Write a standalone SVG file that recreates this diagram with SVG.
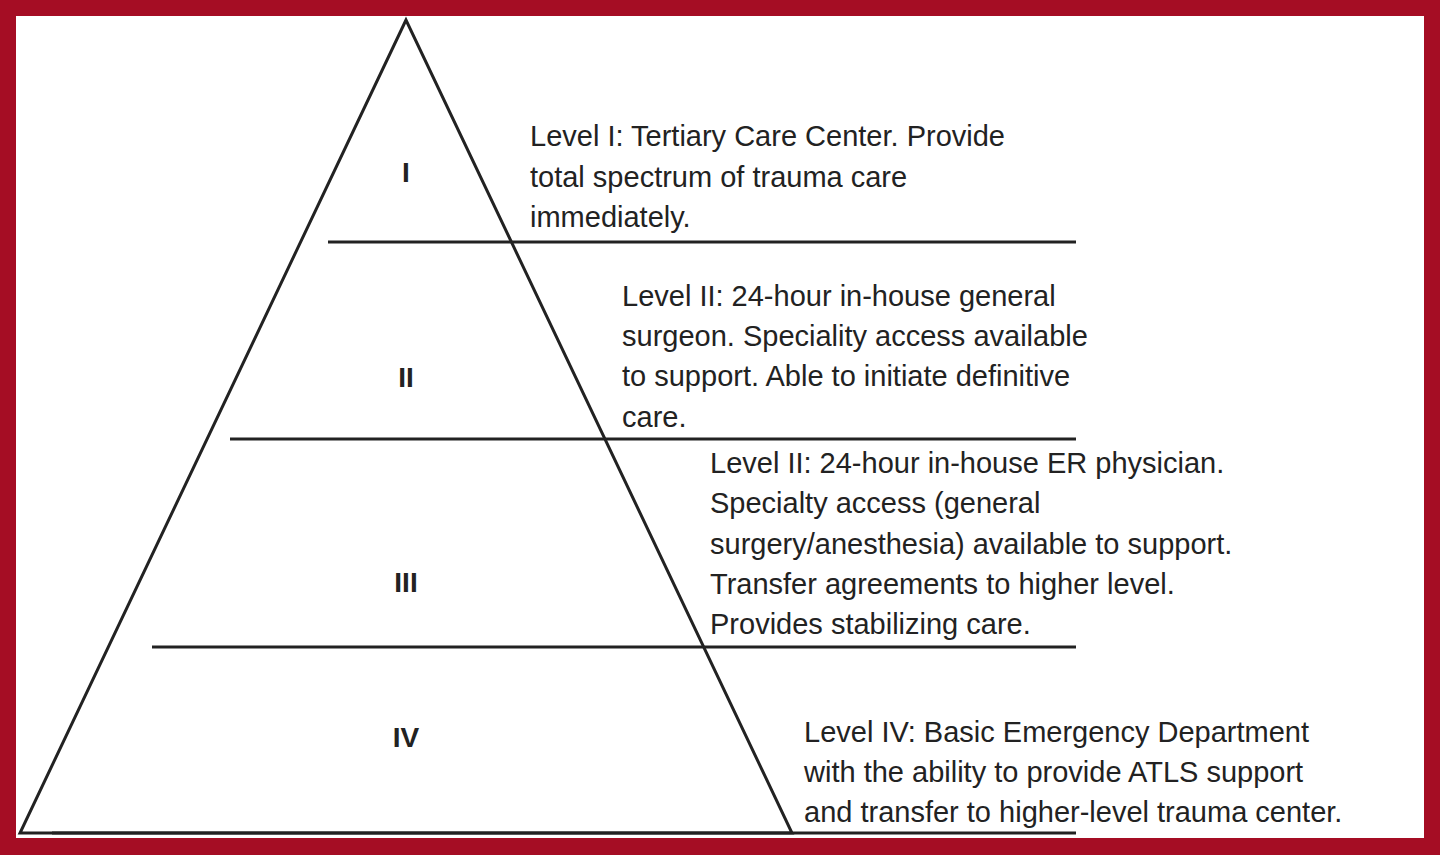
<svg xmlns="http://www.w3.org/2000/svg" width="1440" height="855" viewBox="0 0 1440 855">
<style>
.t{font-family:"Liberation Sans",Arial,sans-serif;font-size:29px;fill:#222}
.n{font-family:"Liberation Sans",Arial,sans-serif;font-size:28px;font-weight:bold;fill:#222;text-anchor:middle}
.l{stroke:#222;stroke-width:3;fill:none}
</style>
<rect x="0" y="0" width="1440" height="855" fill="#a50d24"/>
<rect x="16" y="16" width="1408" height="822" fill="#fff"/>
<g id="connectors">
<polygon class="l" stroke-width="2" points="406,20 20,833 792,833"/>
<line class="l" x1="328" y1="242" x2="1076" y2="242"/>
<line class="l" x1="230" y1="439" x2="1076" y2="439"/>
<line class="l" x1="152" y1="647" x2="1076" y2="647"/>
<line class="l" stroke-width="4" x1="52" y1="833" x2="1076" y2="833"/>
</g>
<g id="level1"><text class="n" x="406" y="182">I</text>
<text class="t" x="530" y="146">Level I: Tertiary Care Center. Provide</text>
<text class="t" x="530" y="187">total spectrum of trauma care</text>
<text class="t" x="530" y="227">immediately.</text></g>
<g id="level2"><text class="n" x="406" y="387">II</text>
<text class="t" x="622" y="306">Level II: 24-hour in-house general</text>
<text class="t" x="622" y="346">surgeon. Speciality access available</text>
<text class="t" x="622" y="386">to support. Able to initiate definitive</text>
<text class="t" x="622" y="427">care.</text></g>
<g id="level3"><text class="n" x="406" y="592">III</text>
<text class="t" x="710" y="473">Level II: 24-hour in-house ER physician.</text>
<text class="t" x="710" y="513">Specialty access (general</text>
<text class="t" x="710" y="554">surgery/anesthesia) available to support.</text>
<text class="t" x="710" y="594">Transfer agreements to higher level.</text>
<text class="t" x="710" y="634">Provides stabilizing care.</text></g>
<g id="level4"><text class="n" x="406" y="747">IV</text>
<text class="t" x="804" y="742">Level IV: Basic Emergency Department</text>
<text class="t" x="804" y="782">with the ability to provide ATLS support</text>
<text class="t" x="804" y="822">and transfer to higher-level trauma center.</text></g>
</svg>
